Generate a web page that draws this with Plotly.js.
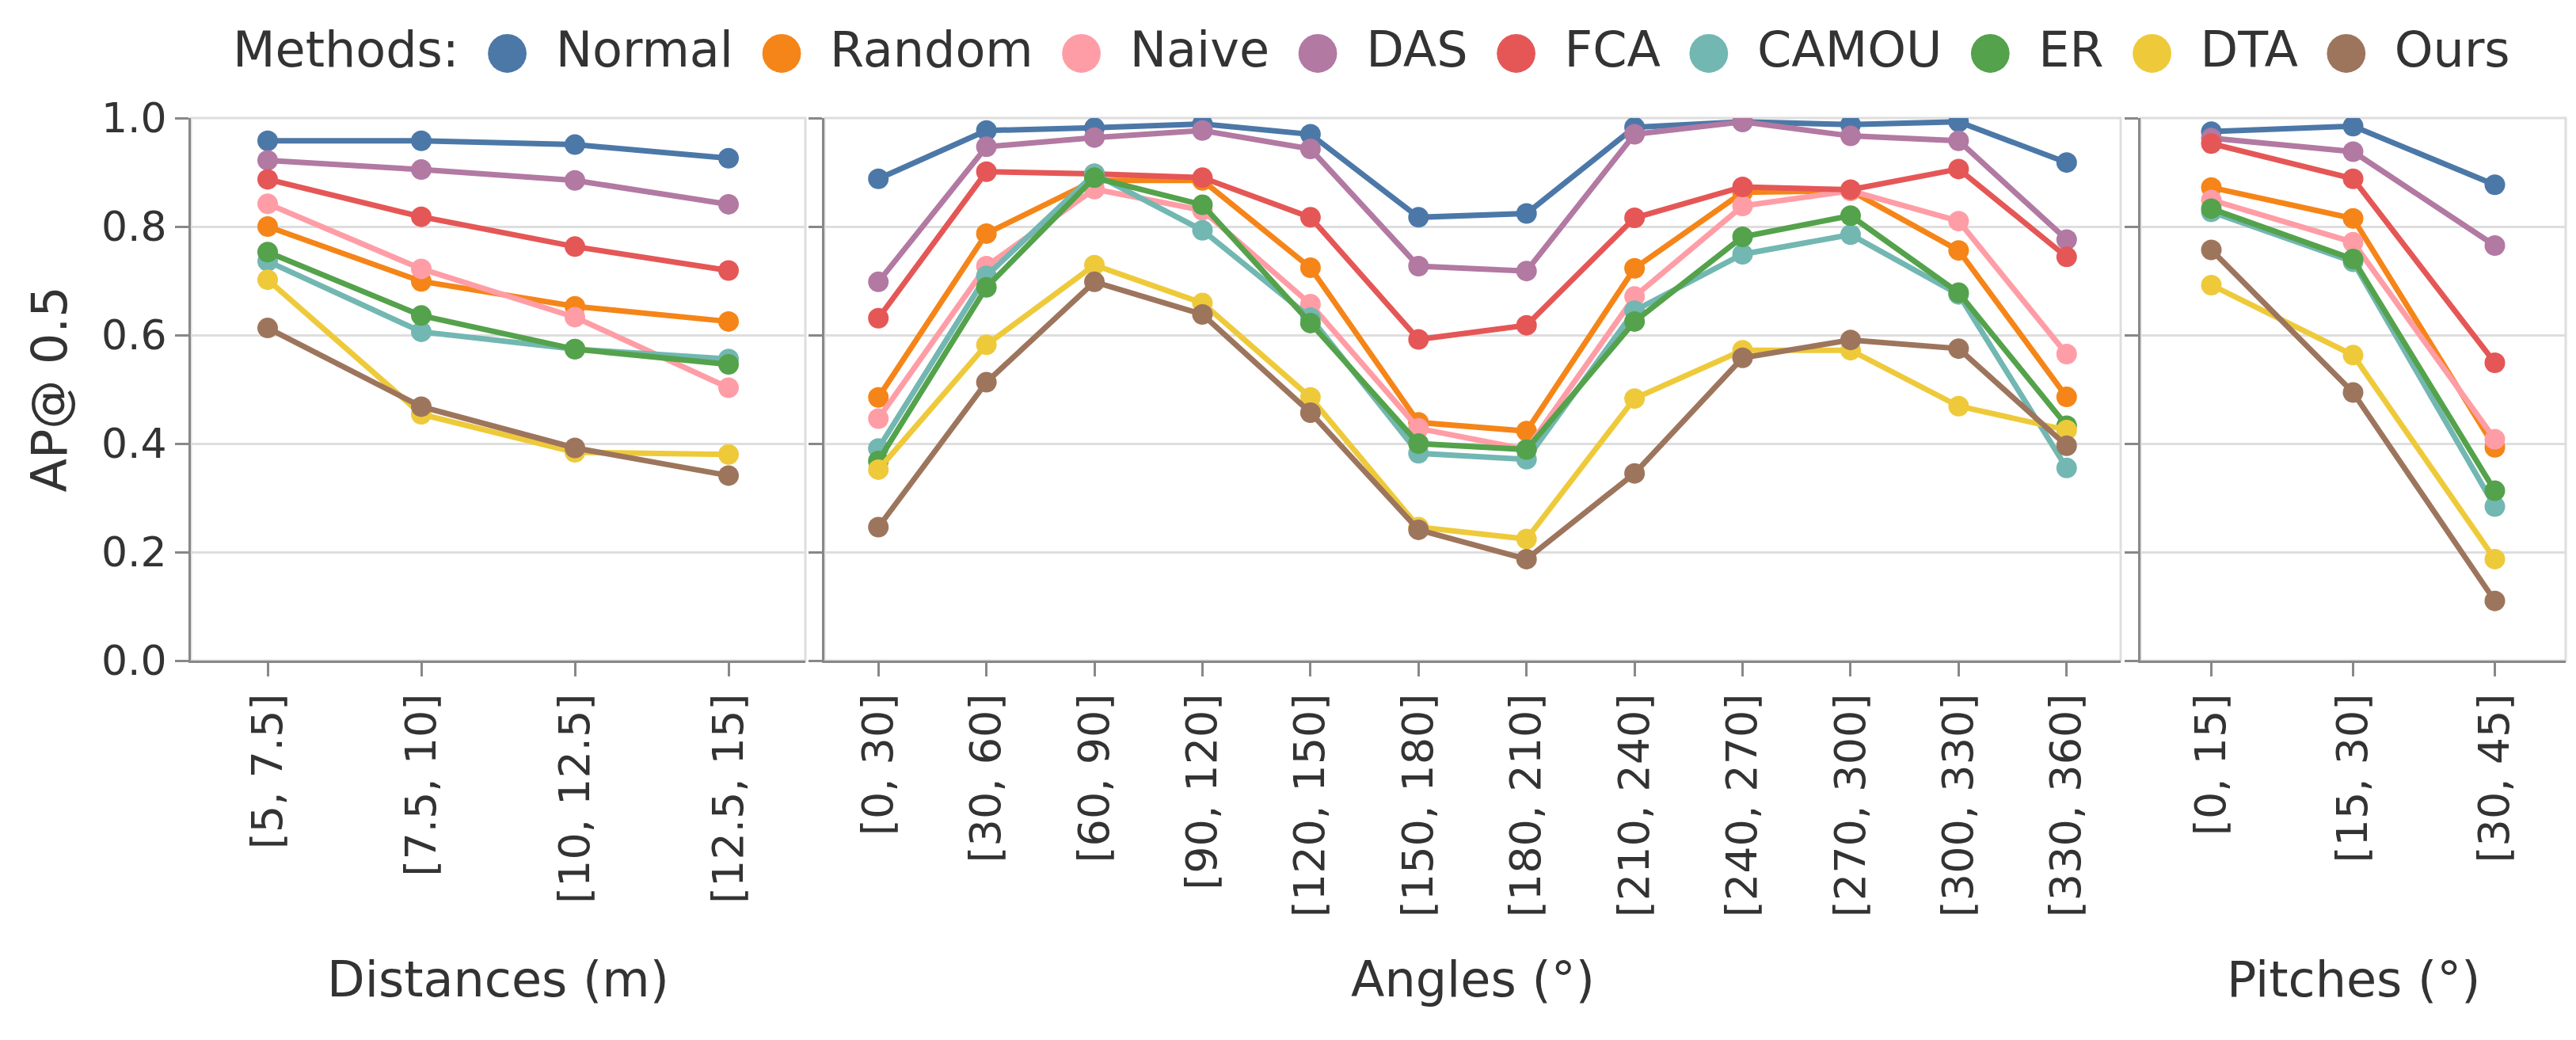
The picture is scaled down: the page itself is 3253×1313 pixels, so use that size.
<!DOCTYPE html>
<html>
<head>
<meta charset="utf-8">
<script src="https://cdn.plot.ly/plotly-3.0.1.min.js"></script>
<style>body{margin:0;background:#fff}</style>
</head>
<body>
<div id="chart" style="width:3253px;height:1313px"></div>
<script>
// methods in legend order, with their colours
var methods = ["Normal", "Random", "Naive", "DAS", "FCA", "CAMOU", "ER", "DTA", "Ours"];
var colors = ["#4c78a8", "#f58518", "#ff9da6", "#b279a2", "#e45756", "#72b7b2", "#54a24b", "#eeca3b", "#9d755d"];

// tick labels for the three panels
var distances = ["[5, 7.5]", "[7.5, 10]", "[10, 12.5]", "[12.5, 15]"];
var angles = ["[0, 30]", "[30, 60]", "[60, 90]", "[90, 120]", "[120, 150]", "[150, 180]",
              "[180, 210]", "[210, 240]", "[240, 270]", "[270, 300]", "[300, 330]", "[330, 360]"];
var pitches = ["[0, 15]", "[15, 30]", "[30, 45]"];

// AP@0.5, one row per method (same order as methods)
var apDistance = [
  [0.958, 0.958, 0.951, 0.926],
  [0.800, 0.699, 0.653, 0.625],
  [0.842, 0.722, 0.633, 0.503],
  [0.922, 0.905, 0.885, 0.841],
  [0.887, 0.818, 0.763, 0.719],
  [0.736, 0.606, 0.574, 0.556],
  [0.753, 0.636, 0.574, 0.546],
  [0.702, 0.454, 0.384, 0.380],
  [0.613, 0.468, 0.392, 0.341]
];
var apAngle = [
  [0.888, 0.977, 0.982, 0.989, 0.970, 0.817, 0.824, 0.983, 0.993, 0.988, 0.993, 0.918],
  [0.485, 0.787, 0.885, 0.885, 0.724, 0.439, 0.423, 0.723, 0.863, 0.866, 0.756, 0.486],
  [0.446, 0.727, 0.869, 0.830, 0.657, 0.428, 0.389, 0.671, 0.838, 0.866, 0.810, 0.565],
  [0.698, 0.947, 0.964, 0.977, 0.943, 0.727, 0.718, 0.970, 0.993, 0.967, 0.958, 0.776],
  [0.631, 0.901, 0.897, 0.890, 0.817, 0.592, 0.618, 0.816, 0.873, 0.868, 0.906, 0.744],
  [0.391, 0.709, 0.897, 0.793, 0.632, 0.382, 0.371, 0.645, 0.749, 0.785, 0.675, 0.355],
  [0.368, 0.688, 0.890, 0.840, 0.622, 0.400, 0.389, 0.625, 0.781, 0.820, 0.678, 0.433],
  [0.352, 0.582, 0.729, 0.659, 0.485, 0.246, 0.224, 0.483, 0.572, 0.572, 0.469, 0.425],
  [0.246, 0.513, 0.698, 0.638, 0.457, 0.241, 0.187, 0.345, 0.558, 0.591, 0.575, 0.396]
];
var apPitch = [
  [0.975, 0.985, 0.877],
  [0.872, 0.815, 0.393],
  [0.849, 0.771, 0.408],
  [0.963, 0.938, 0.765],
  [0.953, 0.888, 0.549],
  [0.827, 0.735, 0.284],
  [0.833, 0.740, 0.313],
  [0.692, 0.563, 0.187],
  [0.757, 0.494, 0.110]
];

var W = 3253, H = 1313;
var txt = "#333";
var panels = [
  {cats: distances, vals: apDistance, xa: "x", ya: "y", dom: [241 / W, 1017 / W], title: "Distances (m)"},
  {cats: angles, vals: apAngle, xa: "x2", ya: "y2", dom: [1041 / W, 2678 / W], title: "Angles (°)"},
  {cats: pitches, vals: apPitch, xa: "x3", ya: "y3", dom: [2703 / W, 3240 / W], title: "Pitches (°)"}
];
var yDom = [1 - 834 / H, 1 - 149 / H];

var data = [];
panels.forEach(function(p) {
  for (var i = 0; i < methods.length; i++) {
    data.push({
      x: p.cats,
      y: p.vals[i],
      xaxis: p.xa,
      yaxis: p.ya,
      name: methods[i],
      type: "scatter",
      mode: "lines+markers",
      line: {color: colors[i], width: 7},
      marker: {color: colors[i], size: 26},
      showlegend: false
    });
  }
});

var layout = {
  width: W,
  height: H,
  margin: {l: 0, r: 0, t: 0, b: 0},
  paper_bgcolor: "#fff",
  plot_bgcolor: "#fff",
  font: {family: "DejaVu Sans", color: txt},
  showlegend: false,
  shapes: [],
  annotations: []
};

panels.forEach(function(p, k) {
  var sfx = k === 0 ? "" : String(k + 1);
  layout["xaxis" + sfx] = {
    domain: p.dom,
    anchor: p.ya,
    type: "category",
    range: [-0.5, p.cats.length - 0.5],
    showgrid: false,
    zeroline: false,
    showline: true,
    linecolor: "#888",
    linewidth: 3,
    ticks: "outside",
    ticklen: 17,
    tickwidth: 3,
    tickcolor: "#888",
    tickangle: -90,
    tickfont: {size: 54, color: txt}
  };
  layout["yaxis" + sfx] = {
    domain: yDom,
    anchor: p.xa,
    range: [0, 1],
    dtick: 0.2,
    tickformat: ".1f",
    showgrid: true,
    gridcolor: "#dedede",
    gridwidth: 3,
    zeroline: false,
    showline: true,
    linecolor: "#888",
    linewidth: 3,
    ticks: "outside",
    ticklen: 17,
    tickwidth: 3,
    tickcolor: "#888",
    showticklabels: k === 0,
    tickfont: {size: 52, color: txt}
  };
  // light frame around each panel
  layout.shapes.push({
    type: "rect", xref: p.xa + " domain", yref: p.ya + " domain",
    x0: 0, x1: 1, y0: 0, y1: 1, layer: "below",
    line: {color: "#dedede", width: 3}
  });
  layout.annotations.push({
    text: p.title, xref: "paper", yref: "paper",
    x: (p.dom[0] + p.dom[1]) / 2, y: 1 - 1236 / H,
    xanchor: "center", yanchor: "middle", showarrow: false,
    font: {size: 62, color: txt}
  });
});

layout.annotations.push({
  text: "AP@ 0.5", xref: "paper", yref: "paper",
  x: 62 / W, y: (yDom[0] + yDom[1]) / 2, textangle: -90,
  xanchor: "center", yanchor: "middle", showarrow: false,
  font: {size: 62, color: txt}
});

// legend line at the top
var gap = "<span style='font-size:42px'> </span> ";
var leg = "Methods:";
methods.forEach(function(m, i) {
  leg += gap + "<span style='color:" + colors[i] + ";font-size:64px'>●</span>" + gap + m;
});
layout.annotations.push({
  text: leg, xref: "paper", yref: "paper",
  x: 1732 / W, y: 1 - 62 / H,
  xanchor: "center", yanchor: "middle", showarrow: false,
  font: {size: 62, color: txt}
});

Plotly.newPlot("chart", data, layout, {displayModeBar: false, staticPlot: true});
</script>
</body>
</html>
